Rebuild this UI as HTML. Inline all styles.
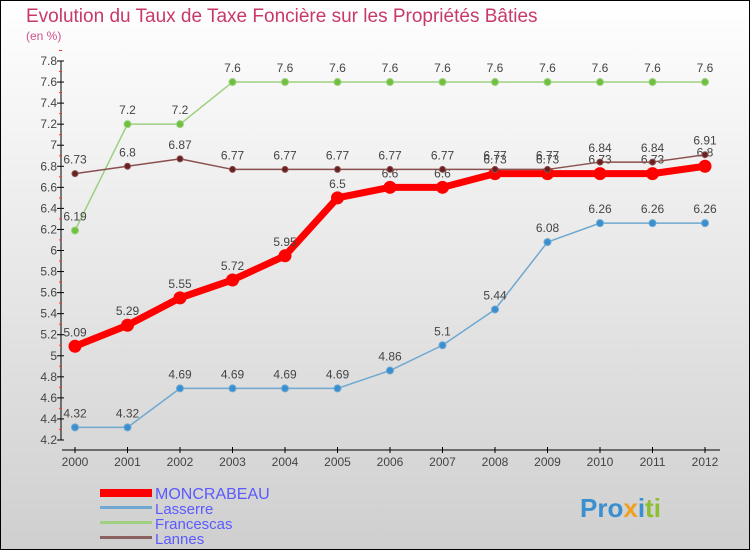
<!DOCTYPE html>
<html><head><meta charset="utf-8"><style>
body{margin:0;width:750px;height:550px;overflow:hidden}
svg{display:block}
text{font-family:"Liberation Sans",sans-serif}
</style></head><body>
<svg id="c" width="750" height="550">
<defs><linearGradient id="bg" x1="0" y1="0" x2="0" y2="1"><stop offset="0" stop-color="#ffffff"/><stop offset="1" stop-color="#cfcfcf"/></linearGradient></defs>
<rect x="0.5" y="0.5" width="749" height="549" fill="url(#bg)" stroke="#000"/>
<text x="26" y="22" font-size="19" fill="#c8386a">Evolution du Taux de Taxe Foncière sur les Propriétés Bâties</text>
<text x="26" y="40" font-size="12" fill="#d0508a">(en %)</text>
<g id="axes"></g><g id="series"></g>
<g>
<rect x="100" y="489" width="52" height="8" fill="#f00"/>
<text x="155" y="499" font-size="16" fill="#5a5aff">MONCRABEAU</text>
<rect x="100" y="506" width="52" height="3" fill="#6fa8d0"/>
<text x="155" y="514" font-size="15" fill="#5a5aff">Lasserre</text>
<rect x="100" y="521" width="52" height="3" fill="#9ed080"/>
<text x="155" y="529" font-size="15" fill="#5a5aff">Francescas</text>
<rect x="100" y="536" width="52" height="3" fill="#8a6060"/>
<text x="155" y="544" font-size="15" fill="#5a5aff">Lannes</text>
</g>
<text x="580" y="517" font-size="26" font-weight="bold"><tspan fill="#3a8fd0">Pro</tspan><tspan fill="#f0a020">x</tspan><tspan fill="#3a8fd0">i</tspan><tspan fill="#8cc030">ti</tspan></text>
</svg>
<script>
const years=[2000,2001,2002,2003,2004,2005,2006,2007,2008,2009,2010,2011,2012];
const moncrabeau=[5.09,5.29,5.55,5.72,5.95,6.5,6.6,6.6,6.73,6.73,6.73,6.73,6.8];
const lasserre=[4.32,4.32,4.69,4.69,4.69,4.69,4.86,5.1,5.44,6.08,6.26,6.26,6.26];
const francescas=[6.19,7.2,7.2,7.6,7.6,7.6,7.6,7.6,7.6,7.6,7.6,7.6,7.6];
const lannes=[6.73,6.8,6.87,6.77,6.77,6.77,6.77,6.77,6.77,6.77,6.84,6.84,6.91];
const yTicks=[4.2,4.4,4.6,4.8,5,5.2,5.4,5.6,5.8,6,6.2,6.4,6.6,6.8,7,7.2,7.4,7.6,7.8];
const NS="http://www.w3.org/2000/svg";
const X=i=>75+i*52.5;
const Y=v=>440-(v-4.2)/3.6*379;
function mk(tag,attrs,parent,txt){const e=document.createElementNS(NS,tag);for(const k in attrs)e.setAttribute(k,attrs[k]);if(txt!==undefined)e.textContent=txt;parent.appendChild(e);return e;}
const ax=document.getElementById('axes');
let yl=mk('line',{x1:61,y1:61,x2:61,y2:440,stroke:'#000'},ax);


yTicks.forEach(v=>{
 const t=mk('line',{x1:57,y1:Y(v),x2:64,y2:Y(v),stroke:'#000'},ax);
 
 
 const m=mk('line',{x1:59,y1:Y(v+0.1),x2:62,y2:Y(v+0.1),stroke:'#f33'},ax);
 
 
 const l=mk('text',{x:57,y:Y(v)+4,'font-size':12,fill:'#444','text-anchor':'end'},ax,String(v));
 
 
});
let xl=mk('line',{x1:62,y1:450,x2:720,y2:450,stroke:'#000'},ax);


years.forEach((y,i)=>{
 const t=mk('line',{x1:X(i),y1:447,x2:X(i),y2:453,stroke:'#000'},ax);
 
 
 const l=mk('text',{x:X(i),y:466,'font-size':12,fill:'#444','text-anchor':'middle'},ax,String(y));
 
 
});
const sg=document.getElementById('series');
function draw(name,vals,color,w,r,dot){
 const g=mk('g',{},sg);
 
 
 const p=mk('polyline',{points:vals.map((v,i)=>X(i)+','+Y(v)).join(' '),fill:'none',stroke:color,'stroke-width':w,'stroke-linejoin':'round'},g);
 
 
 vals.forEach((v,i)=>{
  const c=mk('circle',{cx:X(i),cy:Y(v),r:r,fill:dot,stroke:color,'stroke-width':1},g);
  
  
  const l=mk('text',{x:X(i),y:Y(v)-10,'font-size':12,fill:'#444','text-anchor':'middle'},g,String(v));
  
  
 });
}
draw('lasserre',lasserre,'#6fa8d0',1.5,3.5,'#3a8fd0');
draw('francescas',francescas,'#9ed080',1.5,3.5,'#70c040');
draw('moncrabeau',moncrabeau,'#f00',7,6,'#f00');
draw('lannes',lannes,'#8a5050',1.5,3,'#6a2020');
</script>
</body></html>
